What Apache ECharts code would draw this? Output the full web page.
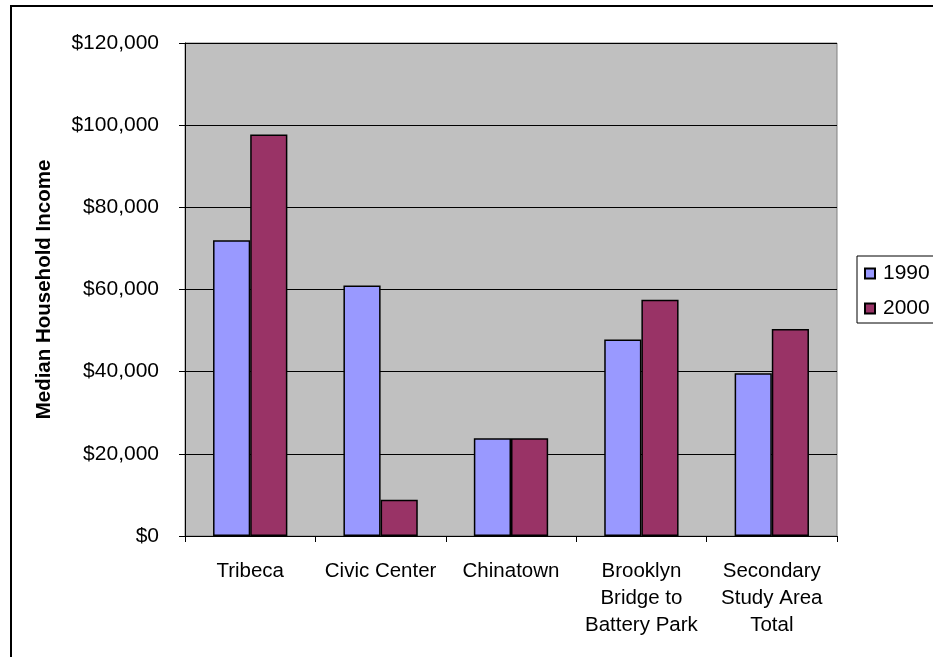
<!DOCTYPE html>
<html>
<head>
<meta charset="utf-8">
<script src="https://cdn.jsdelivr.net/npm/echarts@6/dist/echarts.min.js"></script>
<style>
  html, body { margin: 0; padding: 0; background: #fff; }
  #chart { width: 933px; height: 657px; }
</style>
</head>
<body>
<div id="chart"></div>
<script>
  const categories = ['Tribeca', 'Civic Center', 'Chinatown', 'Brooklyn\nBridge to\nBattery Park', 'Secondary\nStudy Area\nTotal'];
  const income1990 = [72000, 61000, 23800, 47800, 39600];
  const income2000 = [97700, 8800, 23800, 57500, 50400];
  const seriesNames = ['1990', '2000'];

  const font = 'Liberation Sans, Arial, sans-serif';
  const myChart = echarts.init(document.getElementById('chart'));

  const option = {
    animation: false,
    backgroundColor: '#fff',
    textStyle: { fontFamily: font },
    graphic: [{
      type: 'rect',
      shape: { x: 11, y: 6, width: 1000, height: 1000 },
      style: { fill: 'none', stroke: '#000', lineWidth: 2 },
      silent: true,
    }],
    grid: {
      left: 185,
      top: 43,
      right: 96,
      bottom: 121,
      show: true,
      backgroundColor: '#C0C0C0',
      borderColor: '#808080',
      borderWidth: 1,
    },
    legend: {
      orient: 'vertical',
      left: 857,
      top: 256,
      data: seriesNames,
      icon: 'rect',
      itemWidth: 10,
      itemHeight: 10,
      itemGap: 14,
      padding: [7, 40, 4, 7],
      borderColor: '#000',
      borderWidth: 1,
      textStyle: { fontSize: 21, color: '#000', fontFamily: font, padding: [0, 0, 0, 3] },
    },
    xAxis: {
      type: 'category',
      data: categories,
      axisLine: { lineStyle: { color: '#000', width: 1 } },
      axisTick: { show: true, alignWithLabel: false, length: 6, lineStyle: { color: '#000' } },
      axisLabel: {
        color: '#000',
        fontSize: 20.5,
        lineHeight: 27,
        margin: 22,
        interval: 0,
        fontFamily: font,
      },
    },
    yAxis: {
      type: 'value',
      min: 0,
      max: 120000,
      interval: 20000,
      name: 'Median Household Income',
      nameLocation: 'middle',
      nameGap: 130,
      nameTextStyle: { fontSize: 20.5, fontWeight: 'bold', color: '#000', fontFamily: font },
      axisLine: { show: true, lineStyle: { color: '#000', width: 1 } },
      axisTick: { show: true, length: 6, lineStyle: { color: '#000' } },
      splitLine: { lineStyle: { color: '#000', width: 1 } },
      axisLabel: {
        color: '#000',
        fontSize: 21,
        margin: 26,
        fontFamily: font,
        formatter: (v) => '$' + v.toLocaleString('en-US'),
      },
    },
    series: [
      {
        name: seriesNames[0],
        type: 'bar',
        data: income1990,
        barGap: '0%',
        barCategoryGap: '43%',
        itemStyle: { color: '#9999FF', borderColor: '#000', borderWidth: 1.5 },
      },
      {
        name: seriesNames[1],
        type: 'bar',
        data: income2000,
        itemStyle: { color: '#993366', borderColor: '#000', borderWidth: 1.5 },
      },
    ],
  };

  myChart.setOption(option);
  window.onresize = function() {
    myChart.resize();
  };
</script>
</body>
</html>
